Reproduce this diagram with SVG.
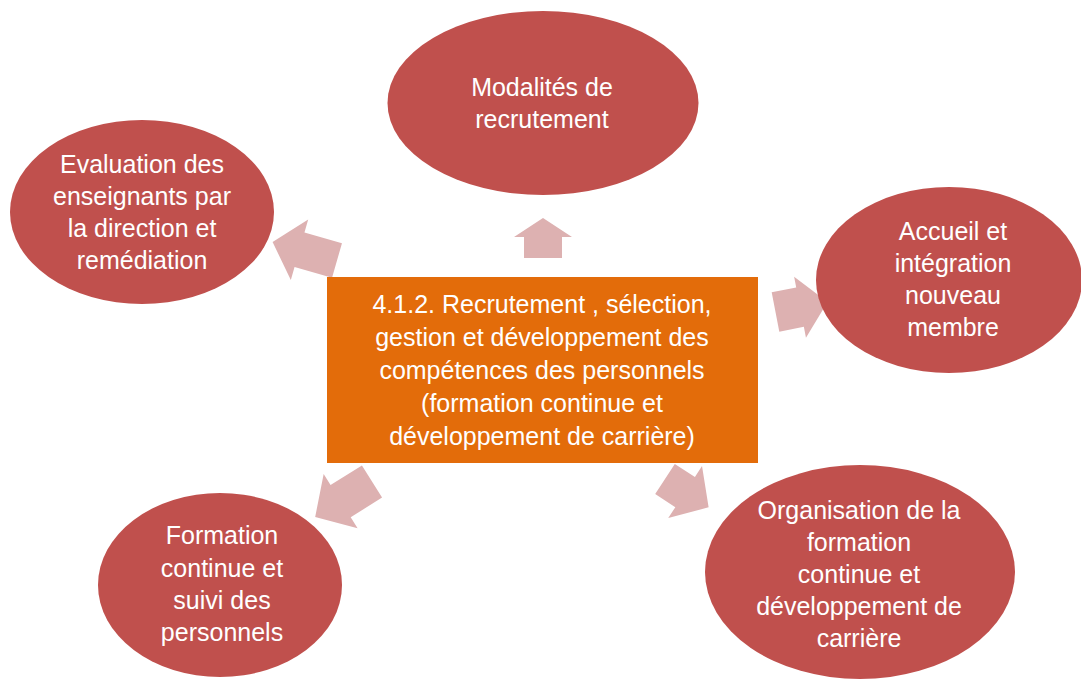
<svg xmlns="http://www.w3.org/2000/svg" width="1081" height="680" viewBox="0 0 1081 680">
  <style>
    .node { fill: #C0504D; }
    .center { fill: #E36C0A; }
    .arrow { fill: #DDB1B1; }
    text { font-family: "Liberation Sans", Arial, sans-serif; font-size: 25px; fill: #FFFFFF; text-anchor: middle; }
  </style>
  <rect width="1081" height="680" fill="#FFFFFF"/>
  <g id="connectors">
    <polygon class="arrow" transform="translate(543,258) rotate(-90)" points="0,-19 21,-19 21,-29 40,0 21,29 21,19 0,19"/>
    <polygon class="arrow" transform="translate(337,260.5) rotate(196)" points="0,-18 39,-18 39,-31.5 67,0 39,31.5 39,18 0,18"/>
    <polygon class="arrow" transform="translate(775.5,312) rotate(-11)" points="0,-20 25,-20 25,-31 53,0 25,31 25,20 0,20"/>
    <polygon class="arrow" transform="translate(372,481.5) rotate(148)" points="0,-19 37,-19 37,-32 67,0 37,32 37,19 0,19"/>
    <polygon class="arrow" transform="translate(665,479) rotate(33)" points="0,-18 24,-18 24,-31 52,0 24,31 24,18 0,18"/>
  </g>
  <g id="node-top">
    <ellipse class="node" cx="543" cy="103" rx="155.5" ry="92"/>
    <text x="542" y="96">Modalités de</text>
    <text x="542" y="128">recrutement</text>
  </g>
  <g id="node-upper-left">
    <ellipse class="node" cx="142" cy="212" rx="132" ry="92"/>
    <text x="142" y="173">Evaluation des</text>
    <text x="142" y="205">enseignants par</text>
    <text x="142" y="237">la direction et</text>
    <text x="142" y="269">remédiation</text>
  </g>
  <g id="node-right">
    <ellipse class="node" cx="949" cy="280" rx="133" ry="93"/>
    <text x="953" y="240">Accueil et</text>
    <text x="953" y="272">intégration</text>
    <text x="953" y="304">nouveau</text>
    <text x="953" y="336">membre</text>
  </g>
  <g id="node-bottom-left">
    <ellipse class="node" cx="220" cy="585" rx="122" ry="92"/>
    <text x="222" y="544">Formation</text>
    <text x="222" y="577">continue et</text>
    <text x="222" y="609">suivi des</text>
    <text x="222" y="641">personnels</text>
  </g>
  <g id="node-bottom-right">
    <ellipse class="node" cx="860" cy="572" rx="155" ry="107"/>
    <text x="859" y="519">Organisation de la</text>
    <text x="859" y="551">formation</text>
    <text x="859" y="583">continue et</text>
    <text x="859" y="615">développement de</text>
    <text x="859" y="647">carrière</text>
  </g>
  <g id="node-center">
    <rect class="center" x="327" y="277" width="431" height="186"/>
    <text x="542" y="313">4.1.2. Recrutement , sélection,</text>
    <text x="542" y="346">gestion et développement des</text>
    <text x="542" y="379">compétences des personnels</text>
    <text x="542" y="412">(formation continue et</text>
    <text x="542" y="445">développement de carrière)</text>
  </g>
</svg>
